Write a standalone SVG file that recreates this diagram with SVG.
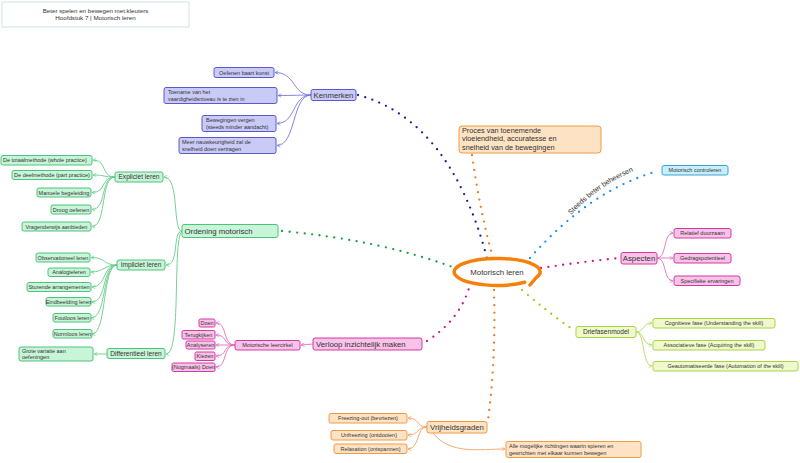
<svg xmlns="http://www.w3.org/2000/svg" width="800" height="463" viewBox="0 0 800 463">
<style>
text{font-family:"Liberation Sans","DejaVu Sans",sans-serif;fill:#333}
.s{font-size:5.5px}
.t{font-size:6.2px}
.m{font-size:6.6px}
.l{font-size:7.8px}
.p{font-size:7.3px}
.c{text-anchor:middle}
.pu rect{fill:#cacaf6;stroke:#5a5ad0;stroke-width:1}
.gr rect{fill:#c8f5d8;stroke:#4cc47a;stroke-width:1}
.pk rect{fill:#f9c2e8;stroke:#d43aa4;stroke-width:1}
.or rect{fill:#fde3c4;stroke:#f29a48;stroke-width:1}
.yg rect{fill:#f0f9cc;stroke:#a8d448;stroke-width:1}
.cy rect{fill:#c8eefa;stroke:#3ba4dc;stroke-width:1}
.dot{fill:none;stroke-width:2.3;stroke-linecap:round;stroke-dasharray:0 7.5}
.ln{fill:none;stroke-width:0.9}
</style>
<defs>
<marker id="apu" viewBox="0 0 8 8" refX="7" refY="4" markerWidth="5" markerHeight="5" orient="auto"><path d="M1 1 L7 4 L1 7" fill="none" stroke="#7777dd" stroke-width="1.2"/></marker>
<marker id="agr" viewBox="0 0 8 8" refX="7" refY="4" markerWidth="5" markerHeight="5" orient="auto"><path d="M1 1 L7 4 L1 7" fill="none" stroke="#66cc88" stroke-width="1.2"/></marker>
<marker id="apk" viewBox="0 0 8 8" refX="7" refY="4" markerWidth="5" markerHeight="5" orient="auto"><path d="M1 1 L7 4 L1 7" fill="none" stroke="#e070c0" stroke-width="1.2"/></marker>
<marker id="aor" viewBox="0 0 8 8" refX="7" refY="4" markerWidth="5" markerHeight="5" orient="auto"><path d="M1 1 L7 4 L1 7" fill="none" stroke="#f5a060" stroke-width="1.2"/></marker>
<marker id="ayg" viewBox="0 0 8 8" refX="7" refY="4" markerWidth="5" markerHeight="5" orient="auto"><path d="M1 1 L7 4 L1 7" fill="none" stroke="#b4d864" stroke-width="1.2"/></marker>
<path id="tp" d="M 571 215 Q 601 182 647 166"/>
</defs>

<g id="title">
<rect x="2" y="2" width="187" height="25" fill="#fff" stroke="#cde6e6" stroke-width="1"/>
<text class="t c" x="95.5" y="12.5">Beter spelen en bewegen met kleuters</text>
<text class="t c" x="95.5" y="19.5">Hoofdstuk 7 | Motorisch leren</text>
</g>

<g id="connectors">
<path class="dot" stroke="#1c1c99" d="M 358 95 Q 450 120 487 258"/>
<path class="dot" stroke="#f07a1a" d="M 472 155 Q 480 212 493 258"/>
<path class="dot" stroke="#1a90e0" d="M 530 258 Q 590 190 658 171"/>
<path class="dot" stroke="#d0187f" d="M 541 268 Q 580 262 620 258"/>
<path class="dot" stroke="#9ccc1c" d="M 522 290 Q 550 314 575 331"/>
<path class="dot" stroke="#10a040" d="M 282 231 Q 380 240 455 268"/>
<path class="dot" stroke="#d0187f" d="M 427 341 Q 460 320 470 285"/>
<path class="dot" stroke="#f07a1a" d="M 494 290 Q 496 360 488 420"/>
<g stroke="#7777dd" marker-end="url(#apu)">
<path class="ln" d="M 311 95 C 292 95 296 72.5 275 72.5"/>
<path class="ln" d="M 311 95 C 300 95 295 95.5 278 95.5"/>
<path class="ln" d="M 311 95 C 292 95 296 123.5 277 123.5"/>
<path class="ln" d="M 311 95 C 292 95 296 145.5 277 145.5"/>
</g>
<g stroke="#66cc88">
<path class="ln" marker-end="url(#agr)" d="M 182 231 C 172 231 180 177 164 177"/>
<path class="ln" marker-end="url(#agr)" d="M 182 231 C 172 231 180 265 166 265"/>
<path class="ln" marker-end="url(#agr)" d="M 182 231 C 172 240 182 354 166 354"/>
<path class="ln" marker-end="url(#agr)" d="M 115 177 C 100 177 108 160 93 160"/>
<path class="ln" marker-end="url(#agr)" d="M 115 177 C 104 177 104 175 93 175"/>
<path class="ln" marker-end="url(#agr)" d="M 115 177 C 100 177 107 192.5 92 192.5"/>
<path class="ln" marker-end="url(#agr)" d="M 115 177 C 100 177 107 209.5 92 209.5"/>
<path class="ln" marker-end="url(#agr)" d="M 115 177 C 100 177 107 226.5 92 226.5"/>
<path class="ln" marker-end="url(#agr)" d="M 117 265 C 102 265 107 257.5 91 257.5"/>
<path class="ln" marker-end="url(#agr)" d="M 117 265 C 104 265 104 272 91 272"/>
<path class="ln" marker-end="url(#agr)" d="M 117 265 C 102 265 107 287 92 287"/>
<path class="ln" marker-end="url(#agr)" d="M 117 265 C 102 265 107 302 92 302"/>
<path class="ln" marker-end="url(#agr)" d="M 117 265 C 102 265 107 318 91 318"/>
<path class="ln" marker-end="url(#agr)" d="M 117 265 C 102 265 107 334 92 334"/>
<path class="ln" marker-end="url(#agr)" d="M 107 354 L 94 354"/>
</g>
<g stroke="#e070c0" marker-end="url(#apk)">
<path class="ln" d="M 313 344 L 301 345"/>
<path class="ln" d="M 235 345 C 222 345 228 323 216 323"/>
<path class="ln" d="M 235 345 C 222 345 228 335 216 335"/>
<path class="ln" d="M 235 345 L 216 345"/>
<path class="ln" d="M 235 345 C 222 345 228 356 216 356"/>
<path class="ln" d="M 235 345 C 222 345 228 367 216 367"/>
</g>
<g stroke="#e070c0" marker-end="url(#apk)">
<path class="ln" d="M 657 258 C 667 258 663 233 673 233"/>
<path class="ln" d="M 657 258 L 673 258"/>
<path class="ln" d="M 657 258 C 667 258 663 281 673 281"/>
</g>
<g stroke="#b4d864" marker-end="url(#ayg)">
<path class="ln" d="M 636 332 C 645 332 642 323 652 323"/>
<path class="ln" d="M 636 332 C 645 332 642 345 652 345"/>
<path class="ln" d="M 636 332 C 645 332 642 366 652 366"/>
</g>
<g stroke="#f5a060" marker-end="url(#aor)">
<path class="ln" d="M 427 427 C 416 427 420 418 408 418"/>
<path class="ln" d="M 427 427 C 416 427 420 435 408 435"/>
<path class="ln" d="M 427 427 C 416 427 420 449 408 449"/>
<path class="ln" d="M 433 433 C 450 455 480 449 505 449"/>
</g>
</g>

<g id="center">
<path d="M 524.6 282.3 A 43 13.5 0 1 1 536 277.7 L 530 285" fill="none" stroke="#f7800a" stroke-width="3.5" stroke-linecap="round"/>
<text class="l c" x="497" y="274.5">Motorisch leren</text>
</g>

<g id="label-steeds"><text style="font-size:7.2px"><textPath href="#tp">Steeds beter beheersen</textPath></text></g>

<g id="proces" class="or">
<rect x="459" y="126" width="142" height="27" rx="3"/>
<text class="p" x="462" y="133">Proces van toenemende</text>
<text class="p" x="462" y="141.4">vloeiendheid, accuratesse en</text>
<text class="p" x="462" y="149.8">snelheid van de bewegingen</text>
</g>

<g id="kenmerken" class="pu">
<rect x="311" y="89.5" width="45" height="11" rx="2"/>
<text class="l c" x="333.5" y="97.5">Kenmerken</text>
</g>
<g id="k1" class="pu"><rect x="214" y="67.5" width="60" height="10" rx="2"/><text class="s c" x="244" y="74.5">Oefenen baart kunst</text></g>
<g id="k2" class="pu"><rect x="164" y="87.5" width="113" height="16" rx="2"/><text class="s" x="168" y="94">Toename van het</text><text class="s" x="168" y="101">vaardigheidsniveau is te zien in</text></g>
<g id="k3" class="pu"><rect x="202" y="115.5" width="74" height="16" rx="2"/><text class="s" x="206" y="122">Bewegingen vergen</text><text class="s" x="206" y="129">(steeds minder aandacht)</text></g>
<g id="k4" class="pu"><rect x="179" y="137.5" width="97" height="16" rx="2"/><text class="s" x="182" y="144">Meer nauwkeurigheid zal de</text><text class="s" x="182" y="151">snelheid doen vertragen</text></g>

<g id="motorisch-controleren" class="cy"><rect x="662" y="165.5" width="66" height="9.5" rx="2"/><text class="s c" x="695" y="172.3">Motorisch controleren</text></g>

<g id="aspecten" class="pk"><rect x="621" y="252.5" width="36" height="11.5" rx="2"/><text class="l c" x="639" y="261">Aspecten</text></g>
<g id="a1" class="pk"><rect x="674" y="228.5" width="57" height="9.5" rx="2"/><text class="s c" x="702.5" y="235.3">Relatief duurzaam</text></g>
<g id="a2" class="pk"><rect x="674" y="253.5" width="57" height="9.5" rx="2"/><text class="s c" x="702.5" y="260.3">Gedragspotentieel</text></g>
<g id="a3" class="pk"><rect x="674" y="276" width="66" height="9.5" rx="2"/><text class="s c" x="707" y="282.8">Specifieke ervaringen</text></g>

<g id="driefasenmodel" class="yg"><rect x="576" y="326.5" width="60" height="11" rx="2"/><text class="m c" x="606" y="334.3">Driefasenmodel</text></g>
<g id="d1" class="yg"><rect x="653" y="318.5" width="122" height="9.5" rx="2"/><text class="s c" x="714" y="325.3">Cognitieve fase (Understanding the skill)</text></g>
<g id="d2" class="yg"><rect x="653" y="340.5" width="112" height="9.5" rx="2"/><text class="s c" x="709" y="347.3">Associatieve fase (Acquiring the skill)</text></g>
<g id="d3" class="yg"><rect x="653" y="361.5" width="145" height="9.5" rx="2"/><text class="s c" x="725.5" y="368.3">Geautomatiseerde fase (Automation of the skill)</text></g>

<g id="vrijheidsgraden" class="or"><rect x="427" y="421.5" width="60" height="11.5" rx="2"/><text class="l c" x="457" y="430">Vrijheidsgraden</text></g>
<g id="v1" class="or"><rect x="329" y="413.5" width="78" height="9.5" rx="2"/><text class="s c" x="368" y="420.3">Freezing-out (bevriezen)</text></g>
<g id="v2" class="or"><rect x="331" y="430.5" width="76" height="9.5" rx="2"/><text class="s c" x="369" y="437.3">Unfreezing (ontdooien)</text></g>
<g id="v3" class="or"><rect x="334" y="444" width="73" height="9.5" rx="2"/><text class="s c" x="370.5" y="450.8">Relaxation (ontspannen)</text></g>
<g id="v4" class="or"><rect x="506" y="441.5" width="135" height="16" rx="2"/><text class="s" x="509" y="448">Alle mogelijke richtingen waarin spieren en</text><text class="s" x="509" y="455">gewrichten met elkaar kunnen bewegen</text></g>

<g id="ordening" class="gr"><rect x="182" y="224.5" width="96" height="13" rx="2"/><text class="l" x="184.5" y="233.5">Ordening motorisch</text></g>

<g id="expliciet" class="gr"><rect x="115" y="172" width="48" height="10" rx="2"/><text class="m c" x="139" y="179.3">Expliciet leren</text></g>
<g id="e1" class="gr"><rect x="1" y="155.5" width="91" height="9.5" rx="2"/><text class="s" x="3" y="162.2">De totaalmethode (whole practice)</text></g>
<g id="e2" class="gr"><rect x="12" y="170.5" width="80" height="9" rx="2"/><text class="s c" x="52" y="177">De deelmethode (part practice)</text></g>
<g id="e3" class="gr"><rect x="37" y="188" width="54" height="9" rx="2"/><text class="s c" x="64" y="194.5">Manuele begeleiding</text></g>
<g id="e4" class="gr"><rect x="51" y="205" width="40" height="9" rx="2"/><text class="s c" x="71" y="211.5">Droog oefenen</text></g>
<g id="e5" class="gr"><rect x="22" y="222" width="69" height="9" rx="2"/><text class="s c" x="56.5" y="228.5">Vragenderwijs aanbieden</text></g>

<g id="impliciet" class="gr"><rect x="117" y="260" width="48" height="10" rx="2"/><text class="m c" x="141" y="267.3">Impliciet leren</text></g>
<g id="i1" class="gr"><rect x="36" y="253" width="54" height="9" rx="2"/><text class="s c" x="63" y="259.5">Observationeel leren</text></g>
<g id="i2" class="gr"><rect x="48" y="268" width="42" height="8.5" rx="2"/><text class="s c" x="69" y="274.2">Analogieleren</text></g>
<g id="i3" class="gr"><rect x="27" y="282.5" width="64" height="9" rx="2"/><text class="s c" x="59" y="289">Sturende arrangementen</text></g>
<g id="i4" class="gr"><rect x="46" y="297.5" width="45" height="8.5" rx="2"/><text class="s c" x="68.5" y="303.7">Eindbeelding leren</text></g>
<g id="i5" class="gr"><rect x="53" y="313.5" width="38" height="8.5" rx="2"/><text class="s c" x="72" y="319.7">Foutloos leren</text></g>
<g id="i6" class="gr"><rect x="53" y="329.5" width="39" height="8.5" rx="2"/><text class="s c" x="72.5" y="335.7">Normloos leren</text></g>

<g id="differentieel" class="gr"><rect x="107" y="348.5" width="58" height="10" rx="2"/><text class="m c" x="136" y="355.8">Differentieel leren</text></g>
<g id="df1" class="gr"><rect x="19" y="347" width="74" height="14" rx="2"/><text class="s" x="22" y="353">Grote variatie aan</text><text class="s" x="22" y="359">oefeningen</text></g>

<g id="verloop" class="pk"><rect x="313" y="338" width="109" height="12" rx="2"/><text class="l" x="316" y="346.8">Verloop inzichtelijk maken</text></g>
<g id="leercirkel" class="pk"><rect x="235" y="340.5" width="65" height="9.5" rx="2"/><text class="s c" x="267.5" y="347.3">Motorische leercirkel</text></g>
<g id="l1" class="pk"><rect x="199" y="319" width="16" height="8" rx="1.5"/><text class="s c" x="207" y="325">Doen</text></g>
<g id="l2" class="pk"><rect x="182" y="330.5" width="33" height="8.5" rx="1.5"/><text class="s c" x="198.5" y="336.7">Terugkijken</text></g>
<g id="l3" class="pk"><rect x="186" y="341" width="29" height="8" rx="1.5"/><text class="s c" x="200.5" y="347">Analyseren</text></g>
<g id="l4" class="pk"><rect x="195" y="352" width="20" height="8.5" rx="1.5"/><text class="s c" x="205" y="358.2">Kiezen</text></g>
<g id="l5" class="pk"><rect x="172" y="363" width="43" height="8.5" rx="1.5"/><text class="s c" x="193.5" y="369.2">(Nogmaals) Doen</text></g>
</svg>
